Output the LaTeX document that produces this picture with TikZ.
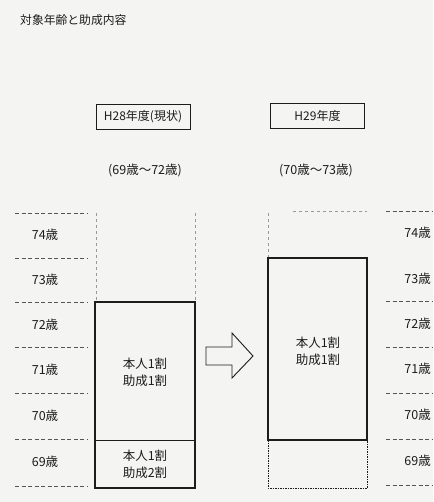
\documentclass[tikz,border=0pt]{standalone}
\usepackage{xcolor}
\usepackage{fontspec}
\newfontfamily\jp{Noto Sans CJK JP}
\usepackage{tikz}
\usetikzlibrary{positioning, arrows.meta, calc}
\definecolor{paper}{HTML}{F4F4F2}
\definecolor{ink}{HTML}{1C1C1C}

\tikzset{
  jptext/.style={font=\jp\fontsize{12.5}{14}\selectfont, text=ink, inner sep=1pt},
  agelabel/.style={jptext, font=\jp\fontsize{12.5}{14}\selectfont},
  yearbox/.style={draw=ink, line width=0.9pt, minimum width=94pt, minimum height=25pt,
                  font=\jp\fontsize{12}{14}\selectfont, text=ink},
  rowline/.style={draw=ink!75, dashed, dash pattern=on 4pt off 2.5pt, line width=0.9pt},
  colline/.style={draw=ink!45, dashed, dash pattern=on 3pt off 3pt, line width=0.6pt},
  planbox/.style={draw=ink, line width=1.8pt},
  planlabel/.style={jptext, font=\jp\fontsize{12.5}{17}\selectfont, align=center}
}

\begin{document}
\begin{tikzpicture}[x=1pt, y=-1pt]
  % page
  \fill[paper] (0,0) rectangle (433,502);
  \useasboundingbox (0,0) rectangle (433,502);
  \clip (0,0) rectangle (433,502);

  % title
  \node[jptext, font=\jp\fontsize{11.8}{14}\selectfont, anchor=west] (title) at (19,20) {対象年齢と助成内容};

  % column heads
  \node[yearbox] (nowhead) at (143,117) {H28年度(現状)};
  \node[yearbox] (nexthead) at (317.5,116) {H29年度};
  \node[jptext] (nowrange) at (145,170) {(69歳～72歳)};
  \node[jptext] (nextrange) at (316,170) {(70歳～73歳)};

  % age rows, left side
  \foreach \age/\yc in {74/235, 73/280, 72/325, 71/370, 70/416, 69/462}
    \node[agelabel] (left\age) at (45,\yc) {\age 歳};
  \foreach \yl in {213, 258, 302, 347, 393, 439, 486}
    \draw[rowline] (15,\yl) -- (88,\yl);

  % age rows, right side
  \foreach \age/\yc in {74/233, 73/279, 72/324, 71/369, 70/415, 69/461}
    \node[agelabel, anchor=east] (right\age) at (432,\yc) {\age 歳};
  \foreach \yr in {211, 301, 347, 393, 439, 485}
    \draw[rowline] (386,\yr) -- (433,\yr);

  % H28 column
  \coordinate (nowtop) at (95,302);
  \coordinate (nowsplit) at (195,440);
  \coordinate (nowbottom) at (195,488);
  \draw[colline] (96,213) -- (96,302);
  \draw[colline] (195,213) -- (195,302);
  \draw[planbox] (nowtop) rectangle (nowbottom);
  \draw[draw=ink, line width=0.9pt] (95,440) -- (nowsplit);
  \node[planlabel] (nowupper) at (145,372) {本人1割\\助成1割};
  \node[planlabel] (nowlower) at (145,464) {本人1割\\助成2割};

  % H29 column
  \coordinate (nexttop) at (268,258);
  \coordinate (nextbottom) at (367,440);
  \draw[colline] (268,213) -- (268,258);
  \draw[colline] (293,211) -- (367,211);
  \draw[planbox] (nexttop) rectangle (nextbottom);
  \draw[draw=ink, line width=1pt, dash pattern=on 1.5pt off 1pt]
    (268,440) -- (268,488) -- (367,488) -- (367,440);
  \node[planlabel] (nextupper) at (318,351) {本人1割\\助成1割};

  % hollow arrow between the columns
  \draw[draw=ink, line width=0.9pt, fill=paper]
    (206,347) -- (232,347) -- (232,333) -- (253,356) -- (232,378)
    -- (232,365) -- (206,365) -- cycle;
\end{tikzpicture}
\end{document}
